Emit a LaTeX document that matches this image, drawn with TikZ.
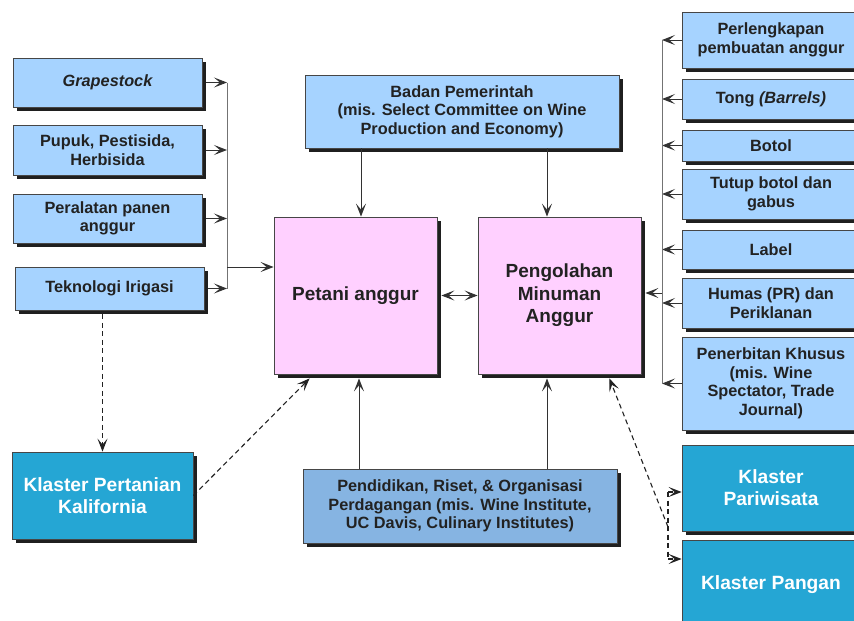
\documentclass[tikz,border=0pt]{standalone}
\usepackage{fontspec}
\setmainfont{Liberation Sans}
\usetikzlibrary{arrows.meta,shadows}
\definecolor{boxblue}{RGB}{166,211,255}
\definecolor{boxpink}{RGB}{255,208,255}
\definecolor{boxcyan}{RGB}{37,166,212}
\definecolor{boxmid}{RGB}{134,180,226}
\definecolor{edge}{RGB}{70,70,70}
\definecolor{ink}{RGB}{34,34,34}
\definecolor{wire}{RGB}{50,50,50}

\tikzset{
  box/.style={draw=edge, line width=0.8pt, fill=boxblue, align=center, inner sep=2pt,
    font=\fontsize{16.3}{18.5}\selectfont\bfseries, text=ink,
    drop shadow={shadow xshift=4pt, shadow yshift=-4pt, fill=black!88, opacity=1}},
  core/.style={box, fill=boxpink, font=\fontsize{19}{22.5}\selectfont\bfseries},
  cluster/.style={box, fill=boxcyan, text=white, font=\fontsize{19.2}{22}\selectfont\bfseries},
  barb/.tip={Stealth[length=13pt,width=10pt,inset=6pt]},
  link/.style={draw=wire, line width=1pt, -barb},
  bus/.style={draw=black!55, line width=1pt},
  dlink/.style={draw=ink, line width=1.1pt, dash pattern=on 5pt off 3.5pt, -barb},
  dline/.style={draw=ink, line width=1.1pt, dash pattern=on 5pt off 3.5pt},
}

\begin{document}
\begin{tikzpicture}[x=1pt, y=-1pt]
\useasboundingbox (0,0) rectangle (854,621);
\clip (0,0) rectangle (854,621);
\fill[white] (0,0) rectangle (854,621);

% suppliers on the left
\node[box, minimum width=189pt, minimum height=49pt] (grape) at (107.5,82.5) {\itshape Grapestock};
\node[box, minimum width=189pt, minimum height=50pt] (pupuk) at (107.5,150) {Pupuk, Pestisida,\\Herbisida};
\node[box, minimum width=189pt, minimum height=49pt] (alat) at (107.5,218.5) {Peralatan panen\\anggur};
\node[box, minimum width=189pt, minimum height=43pt] (tekno) at (109.5,288.5) {Teknologi Irigasi};

% government and core
\node[box, minimum width=314pt, minimum height=73pt] (badan) at (462,111.5)
  {Badan Pemerintah\\(mis. Select Committee on Wine\\Production and Economy)};
\node[core, minimum width=163pt, minimum height=157pt] (petani) at (355.5,295.5) {Petani anggur};
\node[core, minimum width=163pt, minimum height=157pt] (olah) at (559.5,295.5) {Pengolahan\\Minuman\\Anggur};

% education
\node[box, fill=boxmid, minimum width=314pt, minimum height=74pt] (didik) at (460,506)
  {Pendidikan, Riset, \& Organisasi\\Perdagangan (mis. Wine Institute,\\UC Davis, Culinary Institutes)};

% suppliers on the right
\node[box, minimum width=178pt, minimum height=56pt] (perl) at (771,40) {Perlengkapan\\pembuatan anggur};
\node[box, minimum width=178pt, minimum height=40pt] (tong) at (771,99) {Tong \textit{(Barrels)}};
\node[box, minimum width=178pt, minimum height=31pt] (botol) at (771,145.5) {Botol};
\node[box, minimum width=178pt, minimum height=50pt] (tutup) at (771,194) {Tutup botol dan\\gabus};
\node[box, minimum width=178pt, minimum height=39pt] (label) at (771,249.5) {Label};
\node[box, minimum width=178pt, minimum height=50pt] (humas) at (771,303) {Humas (PR) dan\\Periklanan};
\node[box, minimum width=178pt, minimum height=93pt] (terbit) at (771,383.5)
  {Penerbitan Khusus\\(mis. Wine\\Spectator, Trade\\Journal)};

% related clusters
\node[cluster, minimum width=181pt, minimum height=87pt] (pertanian) at (102.5,495.5) {Klaster Pertanian\\Kalifornia};
\node[cluster, minimum width=178pt, minimum height=86pt] (wisata) at (771,488) {Klaster\\Pariwisata};
\node[cluster, minimum width=178pt, minimum height=90pt] (pangan) at (771,585) {Klaster Pangan};

% left collector bus
\coordinate (lbus) at (227,0);
\coordinate (lin) at (227,267);
\foreach \n in {grape,pupuk,alat,tekno}
  \draw[link] ([xshift=4pt]\n.east) -- (\n.east -| lbus);
\draw[bus] (grape.east -| lbus) -- (tekno.east -| lbus);
\draw[link] (lin) -- (lin -| petani.west);

% right collector bus
\coordinate (rbus) at (662,0);
\coordinate (rout) at (662,293);
\foreach \n in {perl,tong,botol,tutup,label,humas,terbit}
  \draw[link] (\n.west) -- (\n.west -| rbus);
\draw[bus] (perl.west -| rbus) -- (terbit.west -| rbus);
\draw[link] (rout) -- ([xshift=4pt]rout -| olah.east);

% government and education links
\coordinate (ca) at (361,0);
\coordinate (cb) at (547,0);
\coordinate (cc) at (359,0);
\draw[link] (badan.south -| ca) -- (petani.north -| ca);
\draw[link] (badan.south -| cb) -- (olah.north -| cb);
\draw[link] (didik.north -| cc) -- ([yshift=-4pt]petani.south -| cc);
\draw[link] (didik.north -| cb) -- ([yshift=-4pt]olah.south -| cb);

% grower and processor
\draw[link, barb-barb] ([xshift=4pt]petani.east) -- (olah.west);

% dashed cluster links
\draw[dlink] ([yshift=-4pt]pertanian.north |- tekno.south) -- (pertanian.north);
\draw[dlink] (pertanian.east) -- ([xshift=36pt,yshift=-4pt]petani.south west);
\coordinate (wj) at (668,492);
\coordinate (pj) at (668,559);
\coordinate (mj) at (668,527);
\draw[dline] (wj) -- (pj);
\draw[dlink] (wj) -- (wj -| wisata.west);
\draw[dlink] (pj) -- (pj -| pangan.west);
\draw[dlink] (mj) -- ([xshift=-32pt,yshift=-4pt]olah.south east);
\end{tikzpicture}
\end{document}
